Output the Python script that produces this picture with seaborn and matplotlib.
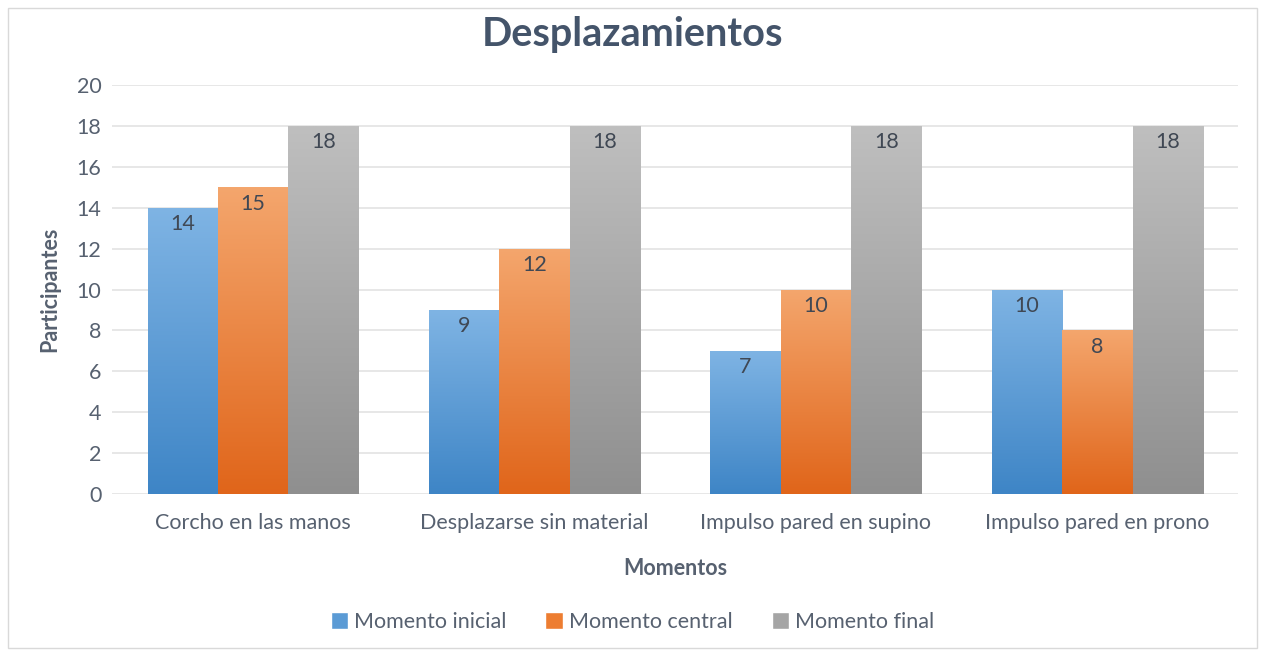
import matplotlib
matplotlib.use("Agg")
import matplotlib.pyplot as plt
import seaborn as sns
import numpy as np
import pandas as pd
from matplotlib.colors import LinearSegmentedColormap
from matplotlib.patches import Rectangle

categories = ["Corcho en las manos", "Desplazarse sin material",
              "Impulso pared en supino", "Impulso pared en prono"]
series = ["Momento inicial", "Momento central", "Momento final"]
inicial = [14, 9, 7, 10]
central = [15, 12, 10, 8]
final = [18, 18, 18, 18]
yticks = [0, 2, 4, 6, 8, 10, 12, 14, 16, 18, 20]

title = "Desplazamientos"
xlabel = "Momentos"
ylabel = "Participantes"

base_colors = ["#5B9BD5", "#ED7D31", "#A5A5A5"]
grad = {
    "#5B9BD5": ("#7FB4E4", "#3E85C6"),
    "#ED7D31": ("#F4A66D", "#E0651A"),
    "#A5A5A5": ("#BFBFBF", "#8F8F8F"),
}

rows = []
for cat, a, b, c in zip(categories, inicial, central, final):
    rows.append((cat, series[0], a))
    rows.append((cat, series[1], b))
    rows.append((cat, series[2], c))
df = pd.DataFrame(rows, columns=["cat", "serie", "val"])

sns.set_theme(style="white")
plt.rcParams["font.family"] = ["Lato", "DejaVu Sans"]
txt = "#576170"
dark = "#44546A"
fs = 15.5

fig = plt.figure(figsize=(12.65, 6.56), dpi=100)
ax = fig.add_axes([0.0889, 0.247, 0.8898, 0.623])

sns.barplot(data=df, x="cat", y="val", hue="serie", palette=base_colors,
            width=0.75, ax=ax, legend=False, saturation=1, linewidth=0)

ax.set_ylim(0, 20)
ax.set_xlim(-0.5, 3.5)
ax.set_yticks(yticks)
ax.yaxis.grid(True, color="#E3E3E3", linewidth=1.2)
ax.set_axisbelow(True)
for s in ax.spines.values():
    s.set_visible(False)

# gradient overlays
patches = [p for p in ax.patches if isinstance(p, Rectangle) and p.get_height() > 0]
for p in patches:
    fc = matplotlib.colors.to_hex(p.get_facecolor())
    key = min(grad.keys(), key=lambda k: sum(abs(int(k[i:i+2], 16) - int(fc[i:i+2], 16)) for i in (1, 3, 5)))
    top, bot = grad[key]
    cmap = LinearSegmentedColormap.from_list("g", [bot, top])
    x0, w, h = p.get_x(), p.get_width(), p.get_height()
    img = np.linspace(0, 1, 256).reshape(-1, 1)
    im = ax.imshow(img, cmap=cmap, aspect="auto", origin="lower",
                   extent=[x0, x0 + w, 0, h], zorder=p.get_zorder() + 0.1)
    im.set_clip_path(p)
    ax.text(x0 + w / 2, h - 0.3, f"{int(h)}", ha="center", va="top",
            fontsize=fs, color="#404854", zorder=5)
ax.set_xlim(-0.5, 3.5)
ax.set_ylim(0, 20)

ax.tick_params(axis="both", length=0, labelsize=fs, colors=txt, pad=8)
ax.tick_params(axis="x", pad=14)
ax.set_xlabel(xlabel, fontsize=fs, fontweight="bold", color=txt, labelpad=18)
ax.set_ylabel(ylabel, fontsize=fs, fontweight="bold", color=txt, labelpad=12)

fig.text(0.5, 0.947, title, ha="center", va="center", fontsize=28.5,
         fontweight="bold", color=dark)

handles = [Rectangle((0, 0), 1, 1, facecolor=c) for c in base_colors]
fig.legend(handles, series, loc="center", bbox_to_anchor=(0.5, 0.052), ncol=3,
           frameon=False, fontsize=fs, labelcolor=txt, handlelength=0.8,
           handleheight=0.8, handletextpad=0.3, columnspacing=1.8)

border = Rectangle((0.006, 0.012), 0.988, 0.976, transform=fig.transFigure,
                   fill=False, edgecolor="#D9D9D9", linewidth=1)
fig.patches.append(border)

fig.savefig("out.png", dpi=100)
